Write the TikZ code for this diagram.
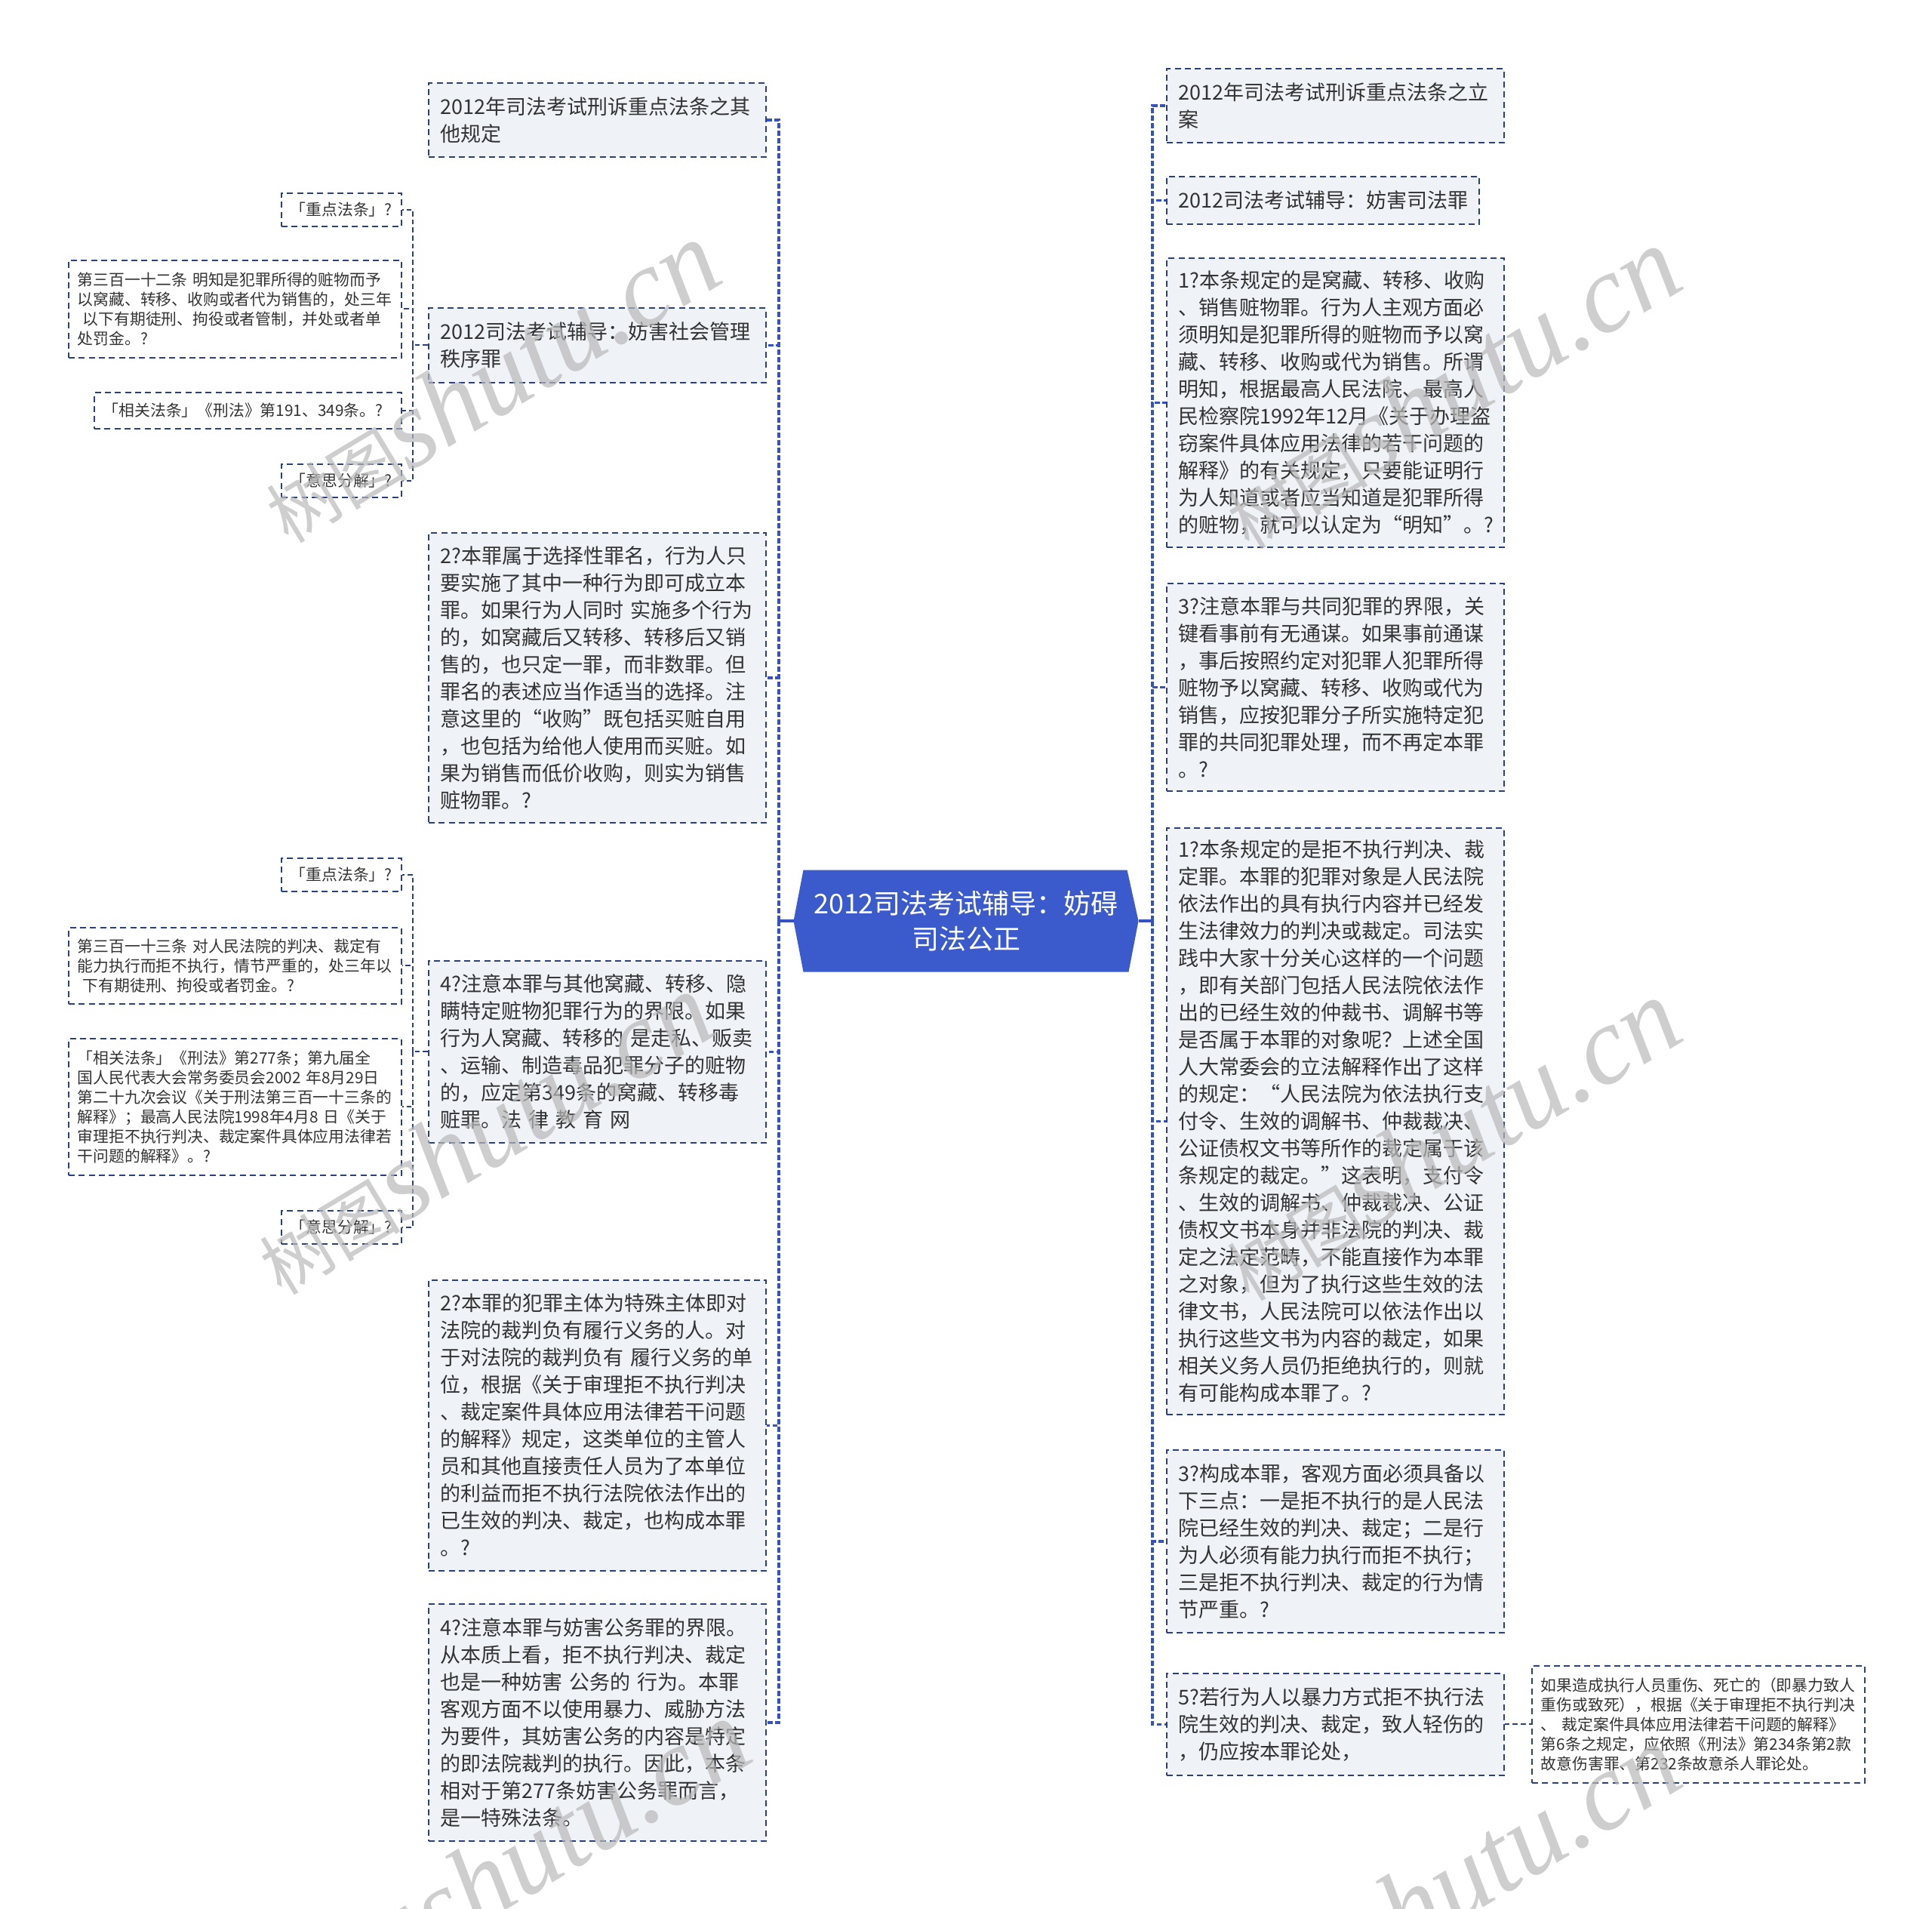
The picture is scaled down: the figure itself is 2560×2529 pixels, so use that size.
\documentclass[tikz,border=0pt]{standalone}
\usepackage{fontspec}
\setmainfont{Noto Sans CJK SC}
\newfontfamily\wmfont{Liberation Serif}
\usetikzlibrary{calc,backgrounds}

\definecolor{boxfill}{RGB}{239,242,247}
\definecolor{boxline}{RGB}{42,64,128}
\definecolor{trunkblue}{RGB}{52,82,192}
\definecolor{hubblue}{RGB}{59,91,204}
\definecolor{ink}{RGB}{51,51,51}
\definecolor{wmgray}{RGB}{185,185,185}

\tikzset{every picture/.style={line width=0.75pt}}
\tikzset{
  topic/.style={draw=boxline, fill=boxfill, line width=1.3pt, dash pattern=on 6pt off 4pt, anchor=north west, align=left, inner xsep=12pt, inner ysep=0pt, text width=311.25pt, text=ink, font=\fontsize{20.25}{27}\selectfont},
  note/.style={draw=boxline, fill=white, line width=1.3pt, dash pattern=on 6pt off 4pt, anchor=north west, align=left, inner xsep=9pt, inner ysep=0pt, text=ink, font=\fontsize{15.6}{19.5}\selectfont},
  hub/.style={minimum width=342pt, minimum height=100.5pt, inner sep=0pt, align=center, text=white, font=\fontsize{27}{35}\selectfont},
  trunk/.style={draw=trunkblue, line width=2.5pt, dash pattern=on 5pt off 2.5pt},
  stem/.style={draw=trunkblue, line width=2.5pt},
  twig/.style={draw=boxline, line width=1.5pt, dash pattern=on 5pt off 3pt},
  wmark/.style={rotate=31, text=wmgray, text opacity=0.7, inner sep=0pt},
}

\begin{document}
\begin{tikzpicture}[x=0.75pt,y=0.75pt,yscale=-1,xscale=1]
\useasboundingbox (0,0) rectangle (2560,2529);

%Shape: Hub [id:hub]
\draw (1280,1220) node [hub] (c) {2012司法考试辅导：妨碍\\司法公正};
\begin{scope}[on background layer]
\fill [hubblue] (c.west) -- ($(c.north west)+(13,0)$) -- ($(c.north east)+(-15,0)$) -- (c.east) -- ($(c.south east)+(-13,0)$) -- ($(c.south west)+(13,0)$) -- cycle ;
\end{scope}

% Text Node
\draw (567,109) node [topic, minimum height=73.5pt] (l1) {2012年司法考试刑诉重点法条之其\\他规定};
% Text Node
\draw (567,407) node [topic, minimum height=74.25pt] (l2) {2012司法考试辅导：妨害社会管理\\秩序罪};
% Text Node
\draw (567,705) node [topic, minimum height=288pt] (l3) {2?本罪属于选择性罪名，行为人只\\
要实施了其中一种行为即可成立本\\
罪。如果行为人同时~实施多个行为\\
的，如窝藏后又转移、转移后又销\\
售的，也只定一罪，而非数罪。但\\
罪名的表述应当作适当的选择。注\\
意这里的“收购”既包括买赃自用\\
，也包括为给他人使用而买赃。如\\
果为销售而低价收购，则实为销售\\
赃物罪。?};
% Text Node
\draw (567,1272) node [topic, minimum height=180.75pt] (l4) {4?注意本罪与其他窝藏、转移、隐\\
瞒特定赃物犯罪行为的界限。如果\\
行为人窝藏、转移的~是走私、贩卖\\
、运输、制造毒品犯罪分子的赃物\\
的，应定第349条的窝藏、转移毒\\
赃罪。法~律~教~育~网};
% Text Node
\draw (567,1695) node [topic, minimum height=288.75pt] (l5) {2?本罪的犯罪主体为特殊主体即对\\
法院的裁判负有履行义务的人。对\\
于对法院的裁判负有~履行义务的单\\
位，根据《关于审理拒不执行判决\\
、裁定案件具体应用法律若干问题\\
的解释》规定，这类单位的主管人\\
员和其他直接责任人员为了本单位\\
的利益而拒不执行法院依法作出的\\
已生效的判决、裁定，也构成本罪\\
。?};
% Text Node
\draw (567,2124) node [topic, minimum height=235.5pt] (l6) {4?注意本罪与妨害公务罪的界限。\\
从本质上看，拒不执行判决、裁定\\
也是一种妨害~公务的~行为。本罪\\
客观方面不以使用暴力、威胁方法\\
为要件，其妨害公务的内容是特定\\
的即法院裁判的执行。因此，本条\\
相对于第277条妨害公务罪而言，\\
是一特殊法条。};

% Text Node
\draw (372,255) node [note, text width=101.25pt, minimum height=33pt] (s1) {「重点法条」?};
% Text Node
\draw (90,344) node [note, text width=312.75pt, minimum height=96.75pt] (s2) {第三百一十二条~明知是犯罪所得的赃物而予\\
以窝藏、转移、收购或者代为销售的，处三年\\
\ 以下有期徒刑、拘役或者管制，并处或者单\\
处罚金。?};
% Text Node
\draw (124,519) node [note, text width=287.25pt, minimum height=36pt] (s3) {「相关法条」《刑法》第191、349条。?};
% Text Node
\draw (372,614) node [note, text width=101.25pt, minimum height=33pt] (s4) {「意思分解」?};
% Text Node
\draw (372,1136) node [note, text width=101.25pt, minimum height=33pt] (s5) {「重点法条」?};
% Text Node
\draw (90,1228) node [note, text width=312.75pt, minimum height=75.75pt] (s6) {第三百一十三条~对人民法院的判决、裁定有\\
能力执行而拒不执行，情节严重的，处三年以\\
\ 下有期徒刑、拘役或者罚金。?};
% Text Node
\draw (90,1375) node [note, text width=312.75pt, minimum height=135.75pt] (s7) {「相关法条」《刑法》第277条；第九届全\\
国人民代表大会常务委员会2002~年8月29日\\
第二十九次会议《关于刑法第三百一十三条的\\
解释》；最高人民法院1998年4月8~日《关于\\
审理拒不执行判决、裁定案件具体应用法律若\\
干问题的解释》。?};
% Text Node
\draw (372,1603) node [note, text width=101.25pt, minimum height=33pt] (s8) {「意思分解」?};

% Text Node
\draw (1545,90) node [topic, minimum height=73.5pt] (r1) {2012年司法考试刑诉重点法条之立\\案};
% Text Node
\draw (1545,233) node [topic, text width=286.5pt, minimum height=47.25pt] (r2) {2012司法考试辅导：妨害司法罪};
% Text Node
\draw (1545,341) node [topic, minimum height=287.25pt] (r3) {1?本条规定的是窝藏、转移、收购\\
、销售赃物罪。行为人主观方面必\\
须明知是犯罪所得的赃物而予以窝\\
藏、转移、收购或代为销售。所谓\\
明知，根据最高人民法院、最高人\\
民检察院1992年12月《关于办理盗\\
窃案件具体应用法律的若干问题的\\
解释》的有关规定，只要能证明行\\
为人知道或者应当知道是犯罪所得\\
的赃物，就可以认定为“明知”。?};
% Text Node
\draw (1545,772) node [topic, minimum height=206.25pt] (r4) {3?注意本罪与共同犯罪的界限，关\\
键看事前有无通谋。如果事前通谋\\
，事后按照约定对犯罪人犯罪所得\\
赃物予以窝藏、转移、收购或代为\\
销售，应按犯罪分子所实施特定犯\\
罪的共同犯罪处理，而不再定本罪\\
。?};
% Text Node
\draw (1545,1096) node [topic, minimum height=582.75pt] (r5) {1?本条规定的是拒不执行判决、裁\\
定罪。本罪的犯罪对象是人民法院\\
依法作出的具有执行内容并已经发\\
生法律效力的判决或裁定。司法实\\
践中大家十分关心这样的一个问题\\
，即有关部门包括人民法院依法作\\
出的已经生效的仲裁书、调解书等\\
是否属于本罪的对象呢？上述全国\\
人大常委会的立法解释作出了这样\\
的规定：“人民法院为依法执行支\\
付令、生效的调解书、仲裁裁决、\\
公证债权文书等所作的裁定属于该\\
条规定的裁定。”这表明，支付令\\
、生效的调解书、仲裁裁决、公证\\
债权文书本身并非法院的判决、裁\\
定之法定范畴，不能直接作为本罪\\
之对象，但为了执行这些生效的法\\
律文书，人民法院可以依法作出以\\
执行这些文书为内容的裁定，如果\\
相关义务人员仍拒绝执行的，则就\\
有可能构成本罪了。?};
% Text Node
\draw (1545,1920) node [topic, minimum height=181.5pt] (r6) {3?构成本罪，客观方面必须具备以\\
下三点：一是拒不执行的是人民法\\
院已经生效的判决、裁定；二是行\\
为人必须有能力执行而拒不执行；\\
三是拒不执行判决、裁定的行为情\\
节严重。?};
% Text Node
\draw (1545,2216) node [topic, minimum height=101.25pt] (r7) {5?若行为人以暴力方式拒不执行法\\
院生效的判决、裁定，致人轻伤的\\
，仍应按本罪论处，};
% Text Node
\draw (2029,2206) node [note, text width=312.75pt, minimum height=116.25pt] (r8) {如果造成执行人员重伤、死亡的（即暴力致人\\
重伤或致死），根据《关于审理拒不执行判决\\
、~裁定案件具体应用法律若干问题的解释》\\
第6条之规定，应依照《刑法》第234条第2款\\
故意伤害罪、第232条故意杀人罪论处。};

%Straight Lines [id:trunks]
\coordinate (lj) at (1032,1220);
\coordinate (rj) at (1527,1220);
\draw [stem] (c.west) -- (lj) ;
\draw [stem] (c.east) -- (rj) ;
\foreach \n in {l1,l2,l3,l4,l5,l6}
  \draw [trunk] (lj) |- (\n.east) ;
\foreach \n in {r1,r2,r3,r4,r5,r6,r7}
  \draw [trunk] (rj) |- (\n.west) ;

%Straight Lines [id:twigs]
\coordinate (l2j) at ($(l2.west)+(-20,0)$);
\draw [twig] (l2.west) -- (l2j) ;
\foreach \n in {s1,s2,s3,s4}
  \draw [twig] (l2j) |- (\n.east) ;
\coordinate (l4j) at ($(l4.west)+(-20,0)$);
\draw [twig] (l4.west) -- (l4j) ;
\foreach \n in {s5,s6,s7,s8}
  \draw [twig] (l4j) |- (\n.east) ;
\draw [twig] (r7.east) -- (r8.west) ;

% Watermarks
\foreach \wx/\wy [count=\i] in {649/506, 1922/514, 640/1502, 1922/1510, 689/2465, 1922/2498}
  \draw (\wx,\wy) node [wmark] (w\i) {\fontsize{70}{70}\selectfont 树图{\wmfont\itshape\fontsize{110}{110}\selectfont shutu.cn}};

\end{tikzpicture}
\end{document}
